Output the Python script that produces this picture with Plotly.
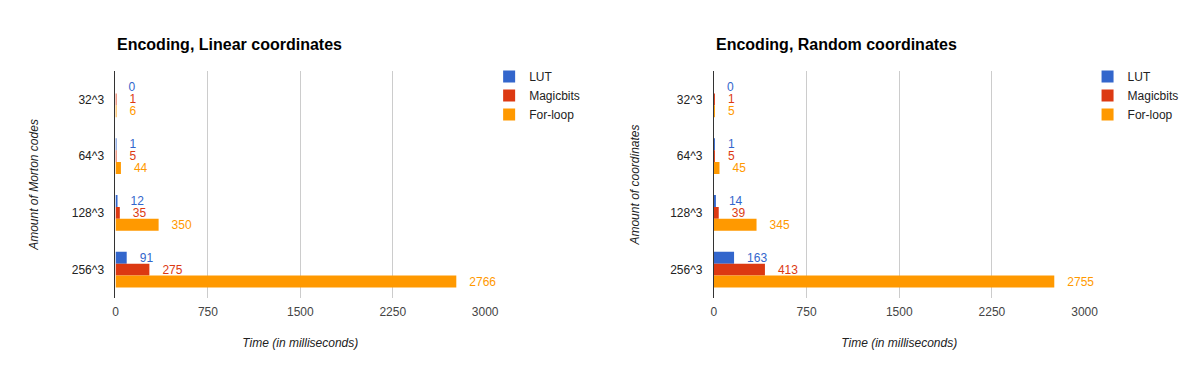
import plotly.graph_objects as go

categories = ["32^3", "64^3", "128^3", "256^3"]
series_names = ["LUT", "Magicbits", "For-loop"]
linear_lut = [0, 1, 12, 91]
linear_magic = [1, 5, 35, 275]
linear_loop = [6, 44, 350, 2766]
random_lut = [0, 1, 14, 163]
random_magic = [1, 5, 39, 413]
random_loop = [5, 45, 345, 2755]
x_ticks = [0, 750, 1500, 2250, 3000]
colors = ["#3366cc", "#dc3912", "#ff9900"]

FONT = "Liberation Sans, Arial, sans-serif"
OFF = 8.0  # page body margin
W = 1200.0 - 2 * OFF
H = 371.0 - 2 * OFF
AX, BX = 11.4, 0.9866  # measured horizontal mapping of the screenshot


def px(x):
    return ((x - AX) / BX) / W


def py(y):
    return 1 - (y - OFF) / H


fig = go.Figure()


def add_chart(values, xa, ya, legend):
    for name, vals, col in zip(series_names, values, colors):
        fig.add_trace(go.Bar(
            y=categories, x=vals, orientation="h", name=name,
            marker=dict(color=col, line=dict(width=0)),
            text=vals, texttemplate="\u00a0\u00a0\u00a0%{x}",
            textposition="outside", constraintext="none", cliponaxis=False,
            textfont=dict(color=col, size=12, family=FONT),
            xaxis=xa, yaxis=ya, legend=legend, hoverinfo="x+y+name",
        ))


add_chart([linear_lut, linear_magic, linear_loop], "x", "y", "legend")
add_chart([random_lut, random_magic, random_loop], "x2", "y2", "legend2")

ydom = [py(298), py(71)]
xcommon = dict(range=[0, 3000], tickvals=x_ticks, showgrid=True, gridcolor="#cccccc",
               gridwidth=1, zeroline=False, showline=False, fixedrange=True,
               tickfont=dict(size=12, color="#444444", family=FONT),
               ticks="outside", ticklen=3, tickcolor="rgba(0,0,0,0)")
ycommon = dict(type="category", autorange="reversed", showgrid=False, zeroline=False,
               showline=True, linecolor="#333333", linewidth=1,
               tickfont=dict(size=12, color="#222222", family=FONT),
               ticks="outside", ticklen=8, tickcolor="rgba(0,0,0,0)")

axtitlefont = dict(size=12, color="#222222", family=FONT, style="italic")

fig.update_layout(
    width=int(W), height=int(H),
    margin=dict(l=0, r=0, t=0, b=0),
    paper_bgcolor="white", plot_bgcolor="white",
    barmode="group", bargap=0.37, bargroupgap=0,
    font=dict(family=FONT, size=12, color="#222222"),
    xaxis=dict(domain=[px(116), px(486)], anchor="y",
               title=dict(text="Time (in milliseconds)", font=axtitlefont, standoff=20), **xcommon),
    yaxis=dict(domain=ydom, anchor="x",
               title=dict(text="Amount of Morton codes", font=axtitlefont, standoff=30), **ycommon),
    xaxis2=dict(domain=[px(715), px(1086)], anchor="y2",
                title=dict(text="Time (in milliseconds)", font=axtitlefont, standoff=20), **xcommon),
    yaxis2=dict(domain=ydom, anchor="x2",
                title=dict(text="Amount of coordinates", font=axtitlefont, standoff=27), **ycommon),
    legend=dict(x=px(490), y=py(62), xanchor="left", yanchor="top",
                font=dict(size=12, color="#222222", family=FONT), bgcolor="rgba(0,0,0,0)",
                tracegroupgap=0, itemwidth=30),
    legend2=dict(x=px(1089), y=py(62), xanchor="left", yanchor="top",
                 font=dict(size=12, color="#222222", family=FONT), bgcolor="rgba(0,0,0,0)",
                 tracegroupgap=0, itemwidth=30),
    showlegend=True,
    annotations=[
        dict(text="<b>Encoding, Linear coordinates</b>", x=px(116), y=py(45),
             xref="paper", yref="paper", xanchor="left", yanchor="middle", showarrow=False,
             font=dict(size=16, color="#000000", family=FONT)),
        dict(text="<b>Encoding, Random coordinates</b>", x=px(715), y=py(45),
             xref="paper", yref="paper", xanchor="left", yanchor="middle", showarrow=False,
             font=dict(size=16, color="#000000", family=FONT)),
    ],
)

fig.write_html("out.html")
